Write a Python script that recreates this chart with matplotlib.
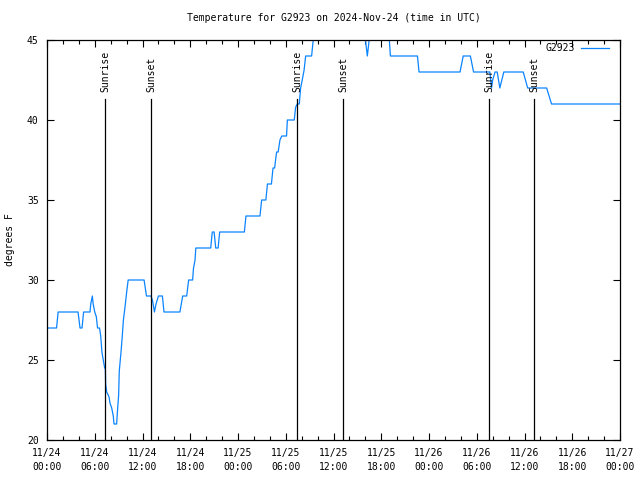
import matplotlib
matplotlib.use("Agg")
import matplotlib.pyplot as plt
import matplotlib.dates as mdates
import matplotlib.transforms as mtransforms
import pandas as pd

plt.rcParams['font.family'] = 'DejaVu Sans Mono'
plt.rcParams['font.size'] = 7

# %% data (hours after 2024-11-24 00:00 UTC, temperature in F)
start = pd.Timestamp('2024-11-24 00:00')
hours = [0.0, 1.2, 1.4, 3.9, 4.15, 4.4, 4.6, 5.4, 5.5, 5.7, 5.8, 6.0, 6.2, 6.35,
         6.6, 6.75, 6.9, 7.07, 7.25, 7.33, 7.37, 7.5, 7.79, 7.92, 8.13, 8.33,
         8.42, 8.75, 8.88, 9.0, 9.08, 9.3, 9.46, 9.6, 9.8, 10.0, 10.2, 12.2,
         12.5, 13.07, 13.27, 13.5, 13.7, 14.0, 14.5, 14.7, 16.7, 17.05, 17.55,
         17.8, 18.3, 18.4, 18.6, 18.7, 20.57, 20.77, 21.0, 21.2, 21.5, 21.7,
         24.8, 25.0, 26.76, 26.97, 27.5, 27.7, 28.2, 28.4, 28.6, 28.85, 29.05,
         29.27, 29.5, 30.1, 30.2, 31.07, 31.24, 31.45, 31.7, 31.87, 32.07,
         32.3, 32.5, 33.25, 33.45, 33.7, 39.9, 40.25, 40.6, 42.95, 43.15,
         46.55, 46.75, 51.9, 52.3, 53.2, 53.6, 55.65, 55.86, 56.0, 56.3,
         56.57, 56.9, 57.4, 59.84, 60.4, 62.78, 63.4, 72.0]
temps = [27, 27, 28, 28, 27, 27, 28, 28, 28.5, 29, 28.5, 28, 27.7, 27,
         27, 26.5, 25.5, 25, 24.5, 24.5, 23.5, 23.0, 22.7, 22.3, 22.0, 21.5,
         21.0, 21.0, 22.0, 22.8, 24.3, 25.5, 26.5, 27.5, 28.3, 29.2, 30, 30,
         29, 29, 28.7, 28, 28.5, 29, 29, 28, 28, 29, 29,
         30, 30, 30.7, 31.25, 32, 32, 33, 33, 32, 32, 33,
         33, 34, 34, 35, 35, 36, 36, 37, 37, 38, 38,
         38.75, 39, 39, 40, 40, 40.8, 41, 41, 42, 42.5,
         43.1, 44, 44, 45, 45.5, 45.5, 44, 45.5, 45.5, 44,
         44, 43, 43, 44, 44, 43, 43, 42, 42.5, 43,
         43, 42, 43, 43, 42, 42, 41, 41]

sun_hours = [7.33, 13.07, 31.42, 37.2, 55.57, 61.2]
sun_labels = ['Sunrise', 'Sunset', 'Sunrise', 'Sunset', 'Sunrise', 'Sunset']

times = start + pd.to_timedelta(hours, unit='h')
sun_times = start + pd.to_timedelta(sun_hours, unit='h')

# %% plot
fig = plt.figure(figsize=(6.4, 4.8), dpi=100)
ax = fig.add_axes([47/640, 40/480, 573/640, 400/480])

ax.plot(times, temps, color='#0a84ff', lw=0.9, label='G2923')

trans = mtransforms.blended_transform_factory(ax.transData, ax.transAxes)
for t, lab in zip(sun_times, sun_labels):
    ax.plot([t, t], [0, 0.8525], color='black', lw=0.9, transform=trans)
    ax.text(t, 0.87, lab, rotation=90, ha='center', va='bottom', transform=trans)

ax.set_xlim(start, start + pd.Timedelta(hours=72))
ax.set_ylim(20, 45)
ax.set_yticks([20, 25, 30, 35, 40, 45])
ax.xaxis.set_major_locator(mdates.HourLocator(byhour=[0, 6, 12, 18]))
ax.xaxis.set_minor_locator(mdates.HourLocator(interval=2))
ax.xaxis.set_major_formatter(mdates.DateFormatter('%m/%d\n%H:%M'))
for lbl in ax.get_xticklabels():
    lbl.set_linespacing(1.45)
ax.tick_params(which='both', direction='in', top=True, right=True, width=0.8)
ax.tick_params(which='major', length=5, pad=6)
ax.tick_params(which='minor', length=3)
for s in ax.spines.values():
    s.set_linewidth(0.9)

ax.set_title('Temperature for G2923 on 2024-Nov-24 (time in UTC)', pad=14, fontsize=7)
fig.text(10/640, 0.5, 'degrees F', rotation=90, ha='center', va='center')

ax.legend(loc='upper right', bbox_to_anchor=(0.985, 0.998), frameon=False,
          markerfirst=False, handlelength=2.9, borderaxespad=0.0,
          handletextpad=0.6, borderpad=0.25)

fig.savefig('out.png', dpi=100)
